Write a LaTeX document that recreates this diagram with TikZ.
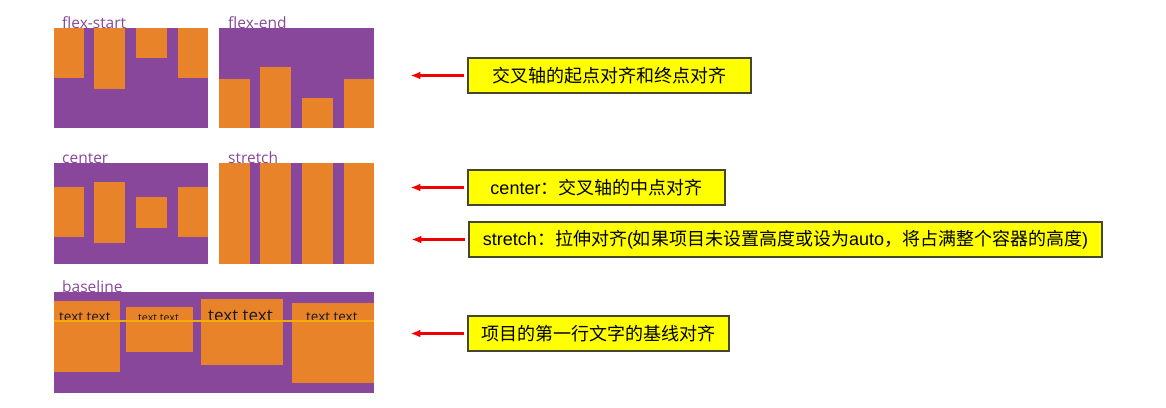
\documentclass[tikz,border=0pt]{standalone}
\usepackage{fontspec}
\setmainfont{Liberation Sans}
\newfontfamily\cjk{Noto Sans CJK SC}
\newfontfamily\labelfont{Open Sans}
\usetikzlibrary{positioning,arrows.meta}

\definecolor{boxpurple}{RGB}{137,71,155}
\definecolor{itemorange}{RGB}{232,131,42}
\definecolor{noteyellow}{RGB}{255,255,0}
\definecolor{noteborder}{RGB}{70,70,40}
\definecolor{pointred}{RGB}{240,0,0}
\definecolor{baseyellow}{RGB}{242,172,10}

\begin{document}
\begin{tikzpicture}[
  x=1pt, y=-1pt,
  panel/.style={fill=boxpurple},
  item/.style={fill=itemorange},
  caption/.style={anchor=base west,inner sep=0pt,text=boxpurple,
    font=\labelfont\fontsize{15.5}{18}\selectfont},
  sample/.style={anchor=base west,inner sep=0pt,text=black!90,font=\labelfont},
  note/.style={draw=noteborder,line width=1.1pt,fill=noteyellow,
    minimum height=35pt,inner sep=0pt,font=\fontsize{18}{21}\selectfont},
  pointer/.style={color=pointred,line width=2.2pt,-{Latex[length=10pt,width=8pt]}},
  ]
  \useasboundingbox (0,0) rectangle (1166,407);

  % flex-start
  \fill [panel] (54,28) rectangle (208,128);
  \foreach \xa/\xb/\yb in {54/84/78, 94/125/89, 136/167/58, 178/208/78}
    \fill [item] (\xa,28) rectangle (\xb,\yb);
  \node [caption] (capStart) at (62,28) {flex-start};

  % flex-end
  \fill [panel] (219,28) rectangle (374,128);
  \foreach \xa/\xb/\ya in {219/250/79, 260/291/67, 302/333/98, 344/374/79}
    \fill [item] (\xa,\ya) rectangle (\xb,128);
  \node [caption] (capEnd) at (228,28) {flex-end};

  % center
  \fill [panel] (54,163) rectangle (208,264);
  \foreach \xa/\xb/\ya/\yb in {54/84/187/237, 94/125/182/243, 136/167/197/228, 178/208/187/237}
    \fill [item] (\xa,\ya) rectangle (\xb,\yb);
  \node [caption] (capCenter) at (62,163) {center};

  % stretch
  \fill [panel] (219,163) rectangle (374,264);
  \foreach \xa/\xb in {219/250, 260/291, 302/333, 344/374}
    \fill [item] (\xa,163) rectangle (\xb,264);
  \node [caption] (capStretch) at (228,163) {stretch};

  % baseline
  \fill [panel] (54,292) rectangle (374,393);
  \foreach \xa/\xb/\ya/\yb in {54/120/301/372, 126/193/307/352, 201/283/299/365, 292/374/303/383}
    \fill [item] (\xa,\ya) rectangle (\xb,\yb);
  \node [caption] (capBase) at (62,292) {baseline};
  \node [sample,font=\labelfont\fontsize{13.5}{16}\selectfont] (txt1) at (59,321) {text text};
  \node [sample,font=\labelfont\fontsize{10.7}{13}\selectfont] (txt2) at (138,321) {text text};
  \node [sample,font=\labelfont\fontsize{17}{20}\selectfont] (txt3) at (208,321) {text text};
  \node [sample,font=\labelfont\fontsize{13.5}{16}\selectfont] (txt4) at (306,321) {text text};
  \draw [baseyellow,line width=1.3pt] (54,321) -- (374,321);

  % notes
  \node [note,minimum width=283pt] (note1) at (609.5,75.5)
    {\cjk 交叉轴的起点对齐和终点对齐};
  \node [note,minimum width=257pt] (note2) at (596.5,187.5)
    {center{\cjk ：交叉轴的中点对齐}};
  \node [note,minimum width=633pt] (note3) at (785.5,239.5)
    {stretch{\cjk ：拉伸对齐}({\cjk 如果项目未设置高度或设为}auto{\cjk ，将占满整个容器的高度})};
  \node [note,minimum width=261pt] (note4) at (598.5,333.5)
    {\cjk 项目的第一行文字的基线对齐};

  % pointers
  \foreach \n in {1,...,4} {
    \coordinate [left=3pt of note\n.west] (tail\n);
    \coordinate [left=57pt of note\n.west] (tip\n);
    \draw [pointer] (tail\n) -- (tip\n);
  }
\end{tikzpicture}
\end{document}
